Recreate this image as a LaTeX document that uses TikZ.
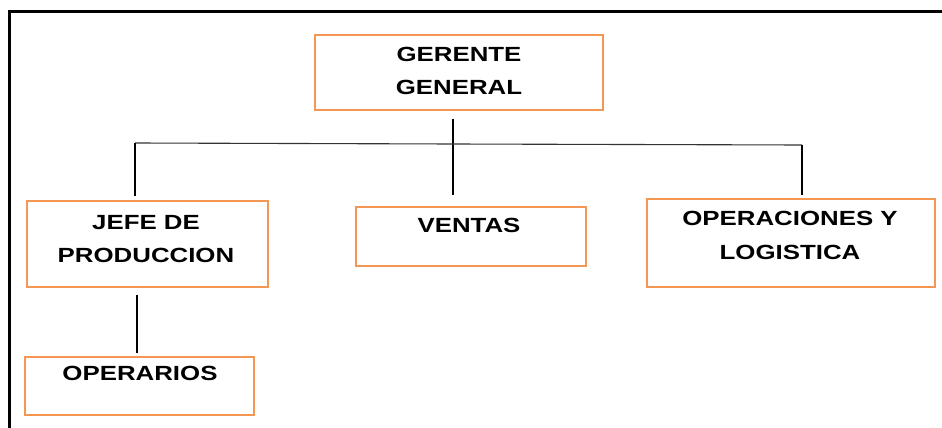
\documentclass[tikz,border=0pt]{standalone}
\usepackage{fontspec}
\newfontfamily\labfont{Liberation Sans}[FakeStretch=1.26]
\definecolor{boxorange}{RGB}{244,150,84}
\tikzset{
  box/.style={draw=boxorange, line width=1.4pt, fill=white, inner sep=0pt},
  lbl/.style={anchor=base, inner sep=0pt, font=\labfont\bfseries\fontsize{20.5}{24}\selectfont, text=black},
  conn/.style={draw=black, line width=1.3pt},
  frame/.style={draw=black, line width=3pt}
}
\begin{document}
\begin{tikzpicture}[x=1pt,y=-1pt]
\useasboundingbox (0,0) rectangle (942,428);
% outer frame (top and left)
\draw[frame] (9,428) -- (9,12) -- (945,12);
% boxes
\node[box, minimum width=288, minimum height=75] (gg) at (459,72.5) {};
\node[box, minimum width=241, minimum height=86] (jefe) at (147.5,244) {};
\node[box, minimum width=230, minimum height=59] (ventas) at (471,236.5) {};
\node[box, minimum width=288, minimum height=88] (oper) at (791,243) {};
\node[box, minimum width=229, minimum height=58] (operarios) at (139.5,386) {};
% labels
\node[lbl] (gg1) at (459,62) {GERENTE};
\node[lbl] (gg2) at (459,94) {GENERAL};
\node[lbl] (jefe1) at (146,229) {JEFE DE};
\node[lbl] (jefe2) at (146,262) {PRODUCCION};
\node[lbl] (ventas1) at (469,232) {VENTAS};
\node[lbl] (oper1) at (790,225) {OPERACIONES Y};
\node[lbl] (oper2) at (790,259) {LOGISTICA};
\node[lbl] (operarios1) at (140,380) {OPERARIOS};
% connector points
\coordinate (ggdown) at (453,119);
\coordinate (hubC) at (453,144);
\coordinate (ventasup) at (453,195);
\coordinate (hubL) at (135,143);
\coordinate (jefeup) at (135,196);
\coordinate (hubR) at (802,145);
\coordinate (operup) at (802,195);
\coordinate (jefedown) at (137,295);
\coordinate (operariosup) at (137,353);
% connectors
\draw[conn] (ggdown) -- (ventasup);
\draw[conn, line width=1.1pt, draw=black!80] (hubL) -- (hubC) -- (hubR);
\draw[conn] (hubL) -- (jefeup);
\draw[conn] (hubR) -- (operup);
\draw[conn] (jefedown) -- (operariosup);
\end{tikzpicture}
\end{document}
